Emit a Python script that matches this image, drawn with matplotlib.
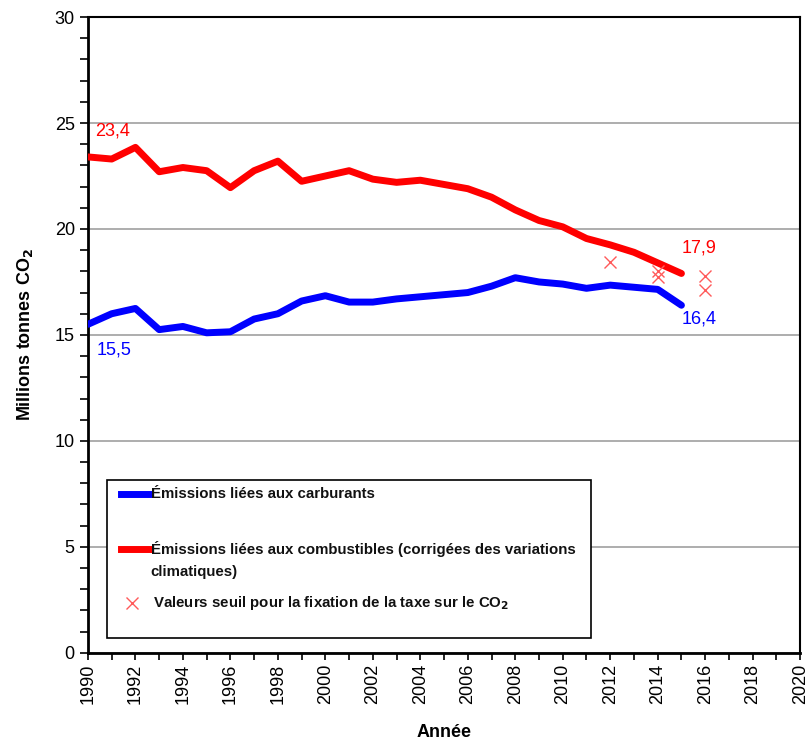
"""Emissions de CO2 liées aux carburants et aux combustibles, 1990-2015"""
import numpy as np
from matplotlib import pyplot as plt
from matplotlib import font_manager
from matplotlib.lines import Line2D
from matplotlib.patches import Rectangle

plt.rcParams['font.family'] = ['Liberation Sans', 'DejaVu Sans']

years = np.arange(1990, 2016)
carburants = [15.5, 16.0, 16.25, 15.25, 15.4, 15.1, 15.15, 15.75, 16.0, 16.6,
              16.85, 16.55, 16.55, 16.7, 16.8, 16.9, 17.0, 17.3, 17.7, 17.5,
              17.4, 17.2, 17.35, 17.25, 17.15, 16.4]
combustibles = [23.4, 23.3, 23.85, 22.7, 22.9, 22.75, 21.95, 22.75, 23.2, 22.25,
                22.5, 22.75, 22.35, 22.2, 22.3, 22.1, 21.9, 21.5, 20.9, 20.4,
                20.1, 19.55, 19.25, 18.9, 18.4, 17.9]
seuil_years = [2012, 2014, 2014, 2016, 2016]
seuil_values = [18.45, 18.0, 17.75, 17.8, 17.1]

BLUE = '#0000ff'
RED = '#ff0000'
XRED = '#ff5a5a'

# a narrow face fits the legend better, if there is one
names = {f.name for f in font_manager.fontManager.ttflist}
if 'Liberation Sans Narrow' in names:
    legend_family, legend_size = ['Liberation Sans Narrow', 'DejaVu Sans'], 12.5
else:
    legend_family, legend_size = ['Liberation Sans', 'DejaVu Sans'], 10.8

fig = plt.figure(figsize=(8.07, 7.41), dpi=100)
ax = fig.add_axes([0.109, 0.119, 0.8825, 0.858])

ax.plot(years, carburants, color=BLUE, lw=5, solid_capstyle='round', zorder=3)
ax.plot(years, combustibles, color=RED, lw=5, solid_capstyle='round', zorder=3)
ax.plot(seuil_years, seuil_values, ls='none', marker='x', ms=8, mew=1,
        color=XRED, zorder=4)

# value labels
ax.text(1991.05, 24.6, '23,4', color=RED, fontsize=13, ha='center', va='center')
ax.text(1991.1, 14.3, '15,5', color=BLUE, fontsize=13, ha='center', va='center')
ax.text(2015.75, 19.1, '17,9', color=RED, fontsize=13, ha='center', va='center')
ax.text(2015.75, 15.75, '16,4', color=BLUE, fontsize=13, ha='center', va='center')

ax.set_xlim(1990, 2020)
ax.set_ylim(0, 30)
ax.set_xticks(np.arange(1990, 2021, 2))
ax.set_xticks(np.arange(1990, 2021, 1), minor=True)
ax.set_yticks(np.arange(0, 31, 5))
ax.set_yticks(np.arange(0, 31, 1), minor=True)
ax.tick_params(axis='x', which='major', labelsize=13, labelrotation=90,
               direction='out', length=5, width=1.2, pad=3)
ax.tick_params(axis='x', which='minor', direction='out', length=5, width=1.2)
ax.tick_params(axis='y', which='major', labelsize=13, direction='out',
               length=6, width=1.2)
ax.tick_params(axis='y', which='minor', direction='out', length=6, width=1.2)
ax.yaxis.grid(True, which='major', color='#a0a0a0', lw=1.2)
ax.set_axisbelow(True)

for side in ['left', 'bottom']:
    ax.spines[side].set_linewidth(2)
for side in ['top', 'right']:
    ax.spines[side].set_linewidth(1.5)

ax.set_xlabel('Année', fontsize=13, fontweight='bold', labelpad=14)
ax.set_ylabel('Millions tonnes CO$_\\mathbf{2}$', fontsize=13,
              fontweight='bold', labelpad=14)

# legend box, drawn by hand so the handles sit on the first text line
tr = ax.transAxes
ax.add_patch(Rectangle((0.0266, 0.0236), 0.680, 0.2484, transform=tr,
                       facecolor='white', edgecolor='black', lw=1.2, zorder=5))
legend_font = dict(fontsize=legend_size, fontweight='bold', color='#111111',
                   family=legend_family, va='center', ha='left',
                   transform=tr, zorder=6)
ax.add_line(Line2D([0.046, 0.087], [0.25, 0.25], color=BLUE, lw=5,
                   transform=tr, zorder=6))
ax.text(0.088, 0.25, 'Émissions liées aux carburants', **legend_font)
ax.add_line(Line2D([0.046, 0.087], [0.1635, 0.1635], color=RED, lw=5,
                   transform=tr, zorder=6))
ax.text(0.088, 0.1635, 'Émissions liées aux combustibles (corrigées des variations',
        **legend_font)
ax.text(0.088, 0.127, 'climatiques)', **legend_font)
ax.add_line(Line2D([0.0617], [0.0786], ls='none', marker='x', ms=8, mew=1,
                   color=XRED, transform=tr, zorder=6))
ax.text(0.091, 0.0786, 'Valeurs seuil pour la fixation de la taxe sur le CO$_\\mathbf{2}$',
        **legend_font)

fig.savefig('out.png', dpi=100)
